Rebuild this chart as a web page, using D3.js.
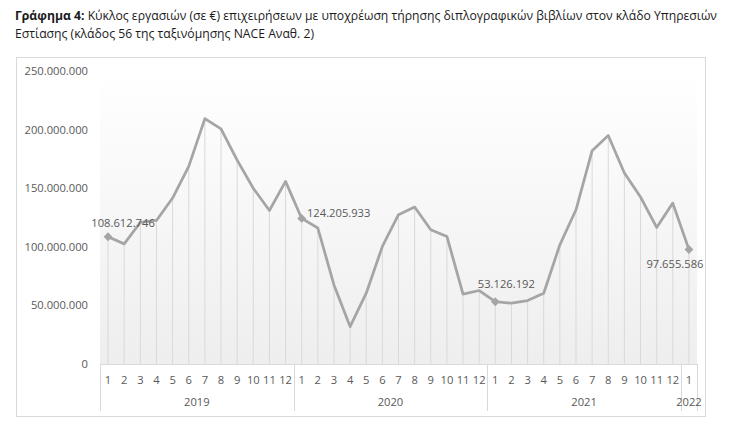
<!DOCTYPE html>
<html>
<head>
<meta charset="utf-8">
<script src="https://cdn.jsdelivr.net/npm/d3@7"></script>
<style>
  body { margin: 0; background: #fff; }
  svg { display: block; font-family: "Open Sans", sans-serif; }
</style>
</head>
<body>
<div id="chart"></div>
<script>
// monthly turnover (€), Jan 2019 .. Jan 2022
var years = ["2019", "2020", "2021", "2022"];
var months = ["1","2","3","4","5","6","7","8","9","10","11","12",
              "1","2","3","4","5","6","7","8","9","10","11","12",
              "1","2","3","4","5","6","7","8","9","10","11","12",
              "1"];
var monthYear = months.map(function (m, i) { return years[Math.floor(i / 12)]; });
var turnover = [
  108612746, 102500000, 120800000, 122500000, 141600000, 168600000,
  209400000, 200600000, 174000000, 150000000, 131000000, 155800000,
  124205933, 116000000, 67500000, 31900000, 60400000, 100300000,
  127400000, 133900000, 114500000, 108800000, 59600000, 62700000,
  53126192, 51900000, 54100000, 60400000, 101700000, 131600000,
  182000000, 194900000, 163000000, 142500000, 116500000, 137300000,
  97655586
];
var yTicks = [0, 50000000, 100000000, 150000000, 200000000, 250000000];
// which points carry a marker + value label
var labelled = [0, 12, 24, 36];
var labelOffset = { 0: [15, -14], 12: [37, -5], 24: [11, -18], 36: [-14, 14] };

var W = 729, H = 438;
var plotLeft = 100, plotRight = 697, plotTop = 71, plotBottom = 364;

var svg = d3.select("#chart").append("svg")
    .attr("width", W).attr("height", H);

var loc = d3.formatLocale({ decimal: ",", thousands: ".", grouping: [3], currency: ["", "€"] });
var fmt = loc.format(",d");

// title
var title = svg.append("text").attr("x", 15).attr("y", 20)
    .attr("font-size", "12.2px").attr("fill", "#1a1a1a");
title.append("tspan").attr("font-weight", "bold").text("Γράφημα 4:");
title.append("tspan").text(" Κύκλος εργασιών (σε €) επιχειρήσεων με υποχρέωση τήρησης διπλογραφικών βιβλίων στον κλάδο Υπηρεσιών");
svg.append("text").attr("x", 15).attr("y", 38)
    .attr("font-size", "12.2px").attr("fill", "#1a1a1a")
    .text("Εστίασης (κλάδος 56 της ταξινόμησης NACE Αναθ. 2)");

// chart frame
svg.append("rect")
    .attr("x", 16.5).attr("y", 57.5).attr("width", 689).attr("height", 359)
    .attr("fill", "#fff").attr("stroke", "#d9d9d9");

var defs = svg.append("defs");
var grad = defs.append("linearGradient").attr("id", "bg")
    .attr("x1", 0).attr("y1", 0).attr("x2", 0).attr("y2", 1);
grad.append("stop").attr("offset", "0%").attr("stop-color", "#ffffff");
grad.append("stop").attr("offset", "100%").attr("stop-color", "#eeeeee");

var x = d3.scaleBand().domain(d3.range(turnover.length)).range([plotLeft, plotRight]);
var y = d3.scaleLinear().domain([0, 250000000]).range([plotBottom, plotTop]);
var cx = function (i) { return x(i) + x.bandwidth() / 2; };

svg.append("rect")
    .attr("x", plotLeft).attr("y", plotTop)
    .attr("width", plotRight - plotLeft).attr("height", plotBottom - plotTop)
    .attr("fill", "url(#bg)");

// y axis labels
svg.selectAll("text.ytick")
    .data(yTicks)
    .enter()
    .append("text")
    .attr("class", "ytick")
    .attr("x", 88)
    .attr("y", function (d) { return y(d) + 4; })
    .attr("text-anchor", "end")
    .attr("font-size", "11.2px")
    .attr("fill", "#595959")
    .text(function (d) { return fmt(d); });

// drop lines
svg.selectAll("line.drop")
    .data(turnover)
    .enter()
    .append("line")
    .attr("class", "drop")
    .attr("x1", function (d, i) { return cx(i); })
    .attr("x2", function (d, i) { return cx(i); })
    .attr("y1", function (d) { return y(d); })
    .attr("y2", plotBottom)
    .attr("stroke", "#d9d9d9")
    .attr("stroke-width", 1);

// category axis
svg.append("line")
    .attr("x1", plotLeft).attr("x2", plotRight)
    .attr("y1", plotBottom + 0.5).attr("y2", plotBottom + 0.5)
    .attr("stroke", "#d9d9d9");

svg.selectAll("text.month")
    .data(months)
    .enter()
    .append("text")
    .attr("class", "month")
    .attr("x", function (d, i) { return cx(i); })
    .attr("y", 384)
    .attr("text-anchor", "middle")
    .attr("font-size", "11.2px")
    .attr("fill", "#595959")
    .text(function (d) { return d; });

var groups = years.map(function (yr) {
  var idx = d3.range(months.length).filter(function (i) { return monthYear[i] === yr; });
  return { year: yr, first: idx[0], last: idx[idx.length - 1] };
});

var seps = [plotLeft].concat(groups.map(function (g) { return x(g.last) + x.bandwidth(); }));
svg.selectAll("line.sep")
    .data(seps)
    .enter()
    .append("line")
    .attr("class", "sep")
    .attr("x1", function (d) { return Math.round(d) + 0.5; })
    .attr("x2", function (d) { return Math.round(d) + 0.5; })
    .attr("y1", plotBottom)
    .attr("y2", 411)
    .attr("stroke", "#d9d9d9");

svg.selectAll("text.year")
    .data(groups)
    .enter()
    .append("text")
    .attr("class", "year")
    .attr("x", function (g) { return (x(g.first) + x(g.last) + x.bandwidth()) / 2; })
    .attr("y", 406)
    .attr("text-anchor", "middle")
    .attr("font-size", "11.2px")
    .attr("fill", "#595959")
    .text(function (g) { return g.year; });

// line
var line = d3.line()
    .x(function (d, i) { return cx(i); })
    .y(function (d) { return y(d); });

svg.append("path")
    .datum(turnover)
    .attr("d", line)
    .attr("fill", "none")
    .attr("stroke", "#a5a5a5")
    .attr("stroke-width", 2.75)
    .attr("stroke-linejoin", "round");

// markers and labels
svg.selectAll("path.marker")
    .data(labelled)
    .enter()
    .append("path")
    .attr("class", "marker")
    .attr("d", d3.symbol().type(d3.symbolDiamond2).size(50))
    .attr("transform", function (i) { return "translate(" + cx(i) + "," + y(turnover[i]) + ")"; })
    .attr("fill", "#a5a5a5");

svg.selectAll("text.vlabel")
    .data(labelled)
    .enter()
    .append("text")
    .attr("class", "vlabel")
    .attr("x", function (i) { return cx(i) + labelOffset[i][0]; })
    .attr("y", function (i) { return y(turnover[i]) + labelOffset[i][1] + 4; })
    .attr("text-anchor", "middle")
    .attr("font-size", "11.2px")
    .attr("fill", "#595959")
    .text(function (i) { return fmt(turnover[i]); });
</script>
</body>
</html>
